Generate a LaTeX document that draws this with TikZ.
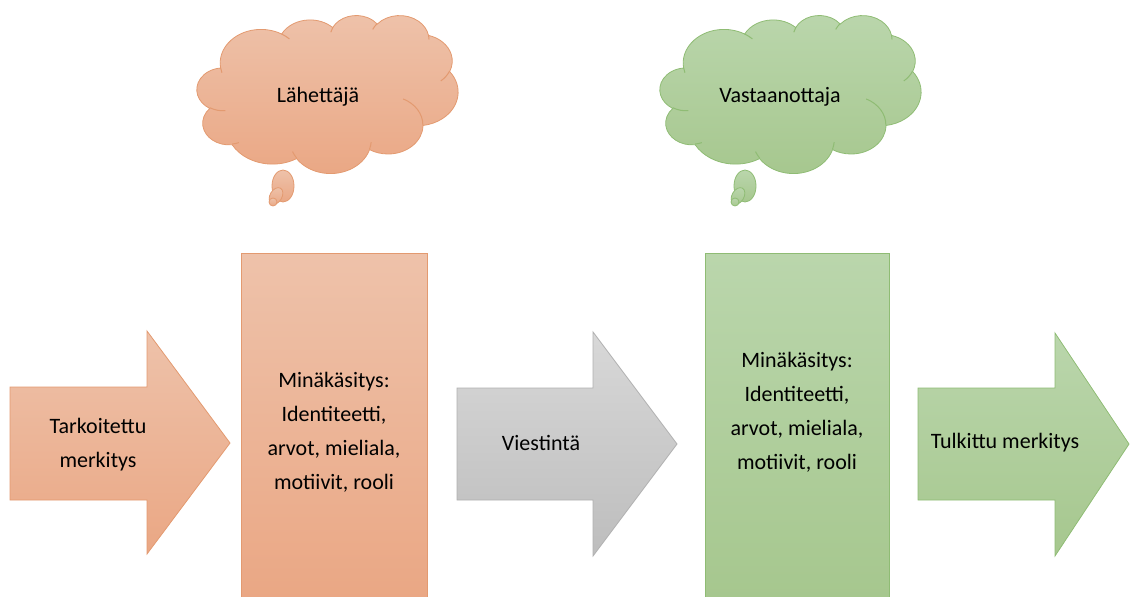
\documentclass[tikz,border=0pt]{standalone}
\usepackage{fontspec}
\setmainfont{Carlito}
\definecolor{orTop}{HTML}{EEC2AA}
\definecolor{orBot}{HTML}{EAA784}
\definecolor{orLine}{HTML}{E39A70}
\definecolor{grTop}{HTML}{BAD6AC}
\definecolor{grBot}{HTML}{A6C78E}
\definecolor{grLine}{HTML}{8FBC74}
\definecolor{gyTop}{HTML}{D8D8D8}
\definecolor{gyBot}{HTML}{BDBDBD}
\definecolor{gyLine}{HTML}{B0B0B0}
\tikzset{
  orfill/.style={top color=orTop, bottom color=orBot, draw=orLine, line width=0.8pt},
  grfill/.style={top color=grTop, bottom color=grBot, draw=grLine, line width=0.8pt},
  gyfill/.style={top color=gyTop, bottom color=gyBot, draw=gyLine, line width=0.8pt},
  orline/.style={draw=orLine, line width=1pt},
  grline/.style={draw=grLine, line width=1pt},
  lbl/.style={font=\fontsize{22}{34}\selectfont, align=center, text=black, inner sep=0pt},
}
% arc given with visual angles (DrawingML arcTo): rx ry start sweep
\newcommand\pparc[4]{\pgfextra{%
  \pgfmathsetmacro\tS{atan2((#1)*sin(#3),(#2)*cos(#3))}%
  \pgfmathsetmacro\tE{atan2((#1)*sin(#3+#4),(#2)*cos(#3+#4))}%
  \pgfmathsetmacro\tE{\tE<\tS ? \tE+360 : \tE}%
  \global\let\tS\tS \global\let\tE\tE}
  arc[x radius=#1, y radius=#2, start angle=\tS, end angle=\tE]}
% cloud: #1 fill style, #2 line style, #3 shift
\newcommand\mycloud[3]{%
\begin{scope}[shift={#3}, x=0.6042pt, y=-0.3657pt]
\path[#1] (39,143.7) \pparc{67.53}{91.90}{-190.487}{123.781}
  \pparc{53.33}{72.67}{-144.102}{89.945}
  \pparc{43.65}{59.45}{-145.808}{99.723}
  \pparc{48.57}{65.95}{-130.986}{117.242}
  \pparc{53.33}{72.73}{-78.709}{109.027}
  \pparc{67.75}{92.20}{-46.267}{130.269}
  \pparc{57.85}{78.67}{0.625}{114.033}
  \pparc{67.52}{92.15}{22.452}{115.173}
  \pparc{77.20}{105.43}{66.243}{75.711}
  \pparc{43.60}{59.18}{-274.942}{146.736}
  \pparc{43.45}{59.45}{-246.829}{152.519} -- cycle;
\path[#2] (46.93,261.77) \pparc{43.45}{59.45}{86.742}{26.430};
\path[#2] (69.28,348.99) \pparc{43.60}{59.18}{73.610}{11.447};
\path[#2] (164.78,390.90) \pparc{67.52}{92.15}{137.624}{14.081};
\path[#2] (288.27,347.51) \pparc{67.52}{92.15}{6.453}{15.998};
\path[#2] (341.29,229.54) \pparc{57.85}{78.67}{-70.292}{70.917};
\path[#2] (417.98,153.54) \pparc{53.33}{72.73}{30.318}{27.752};
\path[#2] (383.24,54.26) \pparc{48.57}{65.95}{-13.744}{14.859};
\path[#2] (290.78,39.52) \pparc{48.57}{65.95}{-149.181}{18.195};
\path[#2] (221.41,47.20) \pparc{43.65}{59.45}{-163.494}{17.686};
\path[#2] (140.00,51.92) \pparc{67.53}{91.90}{-66.707}{12.319};
\path[#2] (41.27,157.89) \pparc{67.53}{91.90}{157.654}{11.858};
\end{scope}}
\begin{document}
\begin{tikzpicture}[x=1pt,y=-1pt]
\useasboundingbox (0,0) rectangle (1130,597);
\clip (0,0) rectangle (1130,597);
% left arrow
\path[orfill] (10,387) -- (147,387) -- (147,331) -- (230,443) -- (147,554) -- (147,500) -- (10,500) -- cycle;
\node[lbl] (tark) at (98,445) {Tarkoitettu\\merkitys};
% orange rectangle
\path[orfill] (241,253) rectangle (427,600);
\node[lbl] (minaA) at (334,432) {Minäkäsitys:\\Identiteetti,\\arvot, mieliala,\\motiivit, rooli};
% gray arrow
\path[gyfill] (457,388) -- (593,388) -- (593,332) -- (677,444) -- (593,556) -- (593,500) -- (457,500) -- cycle;
\node[lbl] (viest) at (541,443) {Viestintä};
% green rectangle
\path[grfill] (705,253) rectangle (889,600);
\node[lbl] (minaB) at (797,412) {Minäkäsitys:\\Identiteetti,\\arvot, mieliala,\\motiivit, rooli};
% right arrow
\path[grfill] (918,388) -- (1055,388) -- (1055,333) -- (1129,444) -- (1055,556) -- (1055,500) -- (918,500) -- cycle;
\node[lbl] (tulk) at (1005,443) {Tulkittu merkitys};
% orange cloud
\mycloud{orfill}{orline}{(197,15)}
\path[orfill] (283,186) ellipse [x radius=11, y radius=16];
\path[orfill, rotate around={-30:(276,196)}] (276,196) ellipse [x radius=6, y radius=9];
\path[orfill] (273,202) circle [radius=4];
\node[lbl] (lah) at (318,97) {Lähettäjä};
% green cloud
\mycloud{grfill}{grline}{(660,15)}
\path[grfill] (745,186) ellipse [x radius=11, y radius=16];
\path[grfill, rotate around={-30:(738,196)}] (738,196) ellipse [x radius=6, y radius=9];
\path[grfill] (735,202) circle [radius=4];
\node[lbl] (vast) at (780,97) {Vastaanottaja};
\end{tikzpicture}
\end{document}
